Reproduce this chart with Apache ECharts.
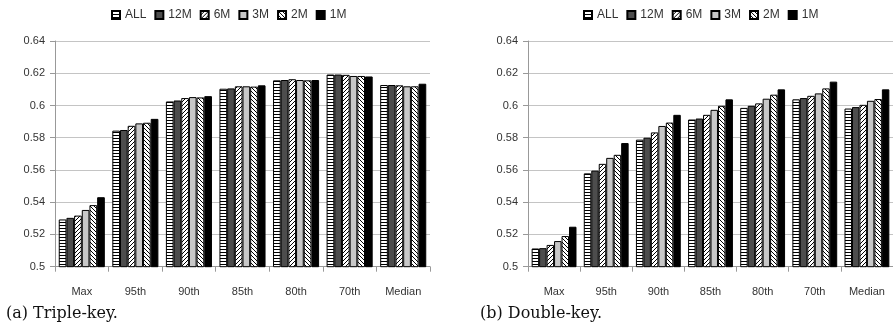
<!DOCTYPE html>
<html>
<head>
<meta charset="utf-8">
<script src="https://cdn.jsdelivr.net/npm/echarts@6/dist/echarts.min.js"></script>
<style>
  html, body { margin: 0; padding: 0; background: #fff; }
  #chart { width: 893px; height: 329px; }
</style>
</head>
<body>
<div id="chart"></div>
<script>
// ---- data ----
const categories = ['Max', '95th', '90th', '85th', '80th', '70th', 'Median'];
const seriesNames = ['ALL', '12M', '6M', '3M', '2M', '1M'];
const yMin = 0.5, yMax = 0.64, yStep = 0.02;
const captions = ['(a) Triple-key.', '(b) Double-key.'];

// (a) Triple-key
const tripleALL = [0.5293, 0.5844, 0.6025, 0.6104, 0.6156, 0.6192, 0.6127];
const triple12M = [0.5303, 0.5848, 0.6031, 0.6106, 0.6158, 0.6192, 0.6127];
const triple6M  = [0.5317, 0.5874, 0.6046, 0.6119, 0.6163, 0.6190, 0.6125];
const triple3M  = [0.5352, 0.5889, 0.6052, 0.6119, 0.6158, 0.6183, 0.6119];
const triple2M  = [0.5382, 0.5893, 0.6050, 0.6117, 0.6156, 0.6183, 0.6119];
const triple1M  = [0.5431, 0.5917, 0.6058, 0.6125, 0.6158, 0.6180, 0.6135];

// (b) Double-key
const doubleALL = [0.5113, 0.5579, 0.5788, 0.5913, 0.5985, 0.6038, 0.5981];
const double12M = [0.5115, 0.5596, 0.5800, 0.5919, 0.5998, 0.6046, 0.5990];
const double6M  = [0.5135, 0.5638, 0.5833, 0.5942, 0.6013, 0.6060, 0.6004];
const double3M  = [0.5159, 0.5675, 0.5873, 0.5973, 0.6042, 0.6075, 0.6029];
const double2M  = [0.5190, 0.5694, 0.5894, 0.5998, 0.6067, 0.6106, 0.6040];
const double1M  = [0.5248, 0.5767, 0.5942, 0.6038, 0.6100, 0.6148, 0.6100];

const tripleData = [tripleALL, triple12M, triple6M, triple3M, triple2M, triple1M];
const doubleData = [doubleALL, double12M, double6M, double3M, double2M, double1M];

// ---- patterns ----
function makeTile(size, draw) {
  const c = document.createElement('canvas');
  c.width = size; c.height = size;
  const ctx = c.getContext('2d');
  ctx.fillStyle = '#ffffff';
  ctx.fillRect(0, 0, size, size);
  ctx.fillStyle = '#000000';
  draw(ctx, size);
  return c;
}
const hTile = makeTile(3, (ctx, s) => { ctx.fillRect(0, 0, s, 1); });
const fwdTile = makeTile(4, (ctx, s) => { for (let i = 0; i < s; i++) ctx.fillRect(s - 1 - i, i, 1, 1); });
const backTile = makeTile(4, (ctx, s) => { for (let i = 0; i < s; i++) ctx.fillRect(i, i, 1, 1); });

const fills = [
  { image: hTile, repeat: 'repeat' },
  '#4d4d4d',
  { image: fwdTile, repeat: 'repeat' },
  '#c8c8c8',
  { image: backTile, repeat: 'repeat' },
  '#000000'
];

const SANS = "'Liberation Sans', Arial, sans-serif";

// ---- chart ----
const chart = echarts.init(document.getElementById('chart'), null, { renderer: 'canvas' });

const grids = [
  { left: 55, top: 41, width: 375, height: 225.7 },
  { left: 528, top: 41, width: 375, height: 225.7 }
];

function xAxisFor(i) {
  return {
    type: 'category', gridIndex: i, data: categories,
    axisLine: { lineStyle: { color: '#999999', width: 1 } },
    axisTick: { show: true, length: 5, alignWithLabel: false, lineStyle: { color: '#999999' } },
    axisLabel: { color: '#333333', fontSize: 11, margin: 20, fontFamily: SANS },
    splitLine: { show: false }
  };
}
function yAxisFor(i) {
  return {
    type: 'value', gridIndex: i, min: yMin, max: yMax, interval: yStep,
    axisLine: { show: true, lineStyle: { color: '#999999', width: 1 } },
    axisTick: { show: true, length: 5, lineStyle: { color: '#999999' } },
    axisLabel: {
      color: '#333333', fontSize: 11, margin: 10, fontFamily: SANS,
      formatter: v => String(+v.toFixed(2))
    },
    splitLine: { show: true, lineStyle: { color: '#c4c4c4', width: 1 } }
  };
}

const series = [];
[tripleData, doubleData].forEach((group, gi) => {
  group.forEach((vals, si) => {
    series.push({
      name: seriesNames[si], type: 'bar',
      xAxisIndex: gi, yAxisIndex: gi,
      data: vals,
      barGap: '0%', barCategoryGap: '14%',
      itemStyle: { color: fills[si], borderColor: '#000000', borderWidth: 1 },
      emphasis: { disabled: true },
      animation: false
    });
  });
});

function legendFor(left) {
  return {
    data: seriesNames, left: left, top: 9, padding: 0,
    icon: 'rect', itemWidth: 8, itemHeight: 8, itemGap: 8,
    selectedMode: false,
    textStyle: { color: '#333333', fontSize: 12, fontFamily: SANS }
  };
}

chart.setOption({
  animation: false,
  backgroundColor: '#ffffff',
  grid: grids,
  xAxis: [xAxisFor(0), xAxisFor(1)],
  yAxis: [yAxisFor(0), yAxisFor(1)],
  legend: [legendFor(111), legendFor(583)],
  series: series,
  graphic: [
    { type: 'text', left: 6, top: 306, style: { text: captions[0], font: "16px 'DejaVu Serif', serif", fill: '#111111' } },
    { type: 'text', left: 480, top: 306, style: { text: captions[1], font: "16px 'DejaVu Serif', serif", fill: '#111111' } }
  ]
});
</script>
</body>
</html>
